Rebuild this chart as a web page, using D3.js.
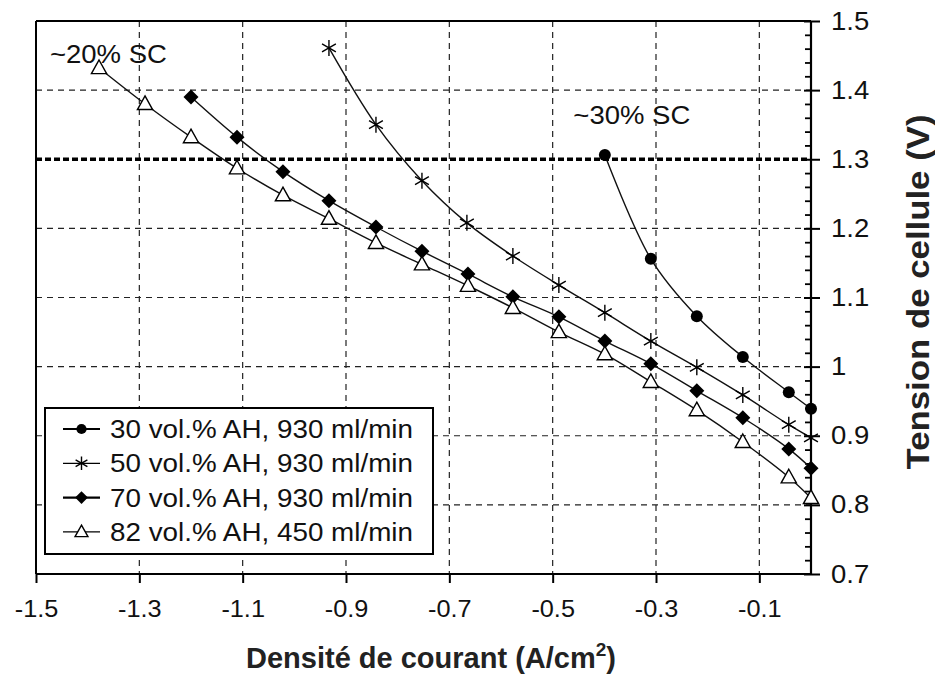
<!DOCTYPE html>
<html>
<head>
<meta charset="utf-8">
<script src="https://cdn.jsdelivr.net/npm/d3@7"></script>
<style>
  html, body { margin: 0; padding: 0; background: #fff; }
  svg { display: block; font-family: "Liberation Sans", Arial, Helvetica, sans-serif; }
</style>
</head>
<body>
<svg id="chart" width="935" height="676"></svg>
<script>
// ---------- data ----------
const x30 = [-0.399, -0.310, -0.221, -0.132, -0.043, 0.0];
const y30 = [1.306, 1.156, 1.073, 1.014, 0.963, 0.939];

const x50 = [-0.933, -0.842, -0.753, -0.666, -0.577, -0.488, -0.399, -0.310, -0.221, -0.132, -0.043, 0.0];
const y50 = [1.461, 1.350, 1.269, 1.208, 1.160, 1.118, 1.078, 1.037, 0.999, 0.959, 0.916, 0.897];

const x70 = [-1.200, -1.111, -1.022, -0.933, -0.842, -0.753, -0.664, -0.577, -0.488, -0.399, -0.310, -0.221, -0.132, -0.043, 0.0];
const y70 = [1.390, 1.332, 1.282, 1.240, 1.202, 1.167, 1.134, 1.101, 1.072, 1.037, 1.004, 0.965, 0.926, 0.881, 0.853];

const x82 = [-1.378, -1.289, -1.200, -1.111, -1.022, -0.933, -0.842, -0.753, -0.664, -0.577, -0.488, -0.399, -0.310, -0.221, -0.132, -0.043, 0.0];
const y82 = [1.432, 1.380, 1.332, 1.287, 1.248, 1.214, 1.179, 1.148, 1.117, 1.085, 1.050, 1.018, 0.978, 0.937, 0.891, 0.840, 0.810];

const seriesNames = ["30 vol.% AH, 930 ml/min", "50 vol.% AH, 930 ml/min", "70 vol.% AH, 930 ml/min", "82 vol.% AH, 450 ml/min"];
const seriesMarkers = ["circle", "asterisk", "diamond", "triangle"];

const xTicks = [-1.5, -1.3, -1.1, -0.9, -0.7, -0.5, -0.3, -0.1];
const xTickLabels = ["-1.5", "-1.3", "-1.1", "-0.9", "-0.7", "-0.5", "-0.3", "-0.1"];
const yTicks = [0.7, 0.8, 0.9, 1.0, 1.1, 1.2, 1.3, 1.4, 1.5];
const yTickLabels = ["0.7", "0.8", "0.9", "1", "1.1", "1.2", "1.3", "1.4", "1.5"];
const thresholdV = 1.3;
const annotations = [
  { text: "~20% SC", x: -1.473, y: 1.439 },
  { text: "~30% SC", x: -0.46, y: 1.351 }
];
const xLabel = "Densité de courant (A/cm";
const xLabelSup = "2";
const yLabel = "Tension de cellule (V)";

// ---------- layout ----------
const svg = d3.select("#chart");
const L = 36, R = 811, T = 21, B = 574;
const SX = 1.1; // horizontal text stretch seen in the reference
const x = d3.scaleLinear().domain([-1.5, 0]).range([L, R]);
const y = d3.scaleLinear().domain([0.7, 1.5]).range([B, T]);

// grid
const grid = svg.append("g").attr("stroke", "#222").attr("stroke-width", 1.2).attr("stroke-dasharray", "6,5");
grid.selectAll("line.v").data(xTicks.filter(d => d > -1.5)).enter().append("line")
  .attr("x1", d => x(d)).attr("x2", d => x(d)).attr("y1", T).attr("y2", B);
grid.selectAll("line.h").data(yTicks.filter(d => d > 0.7 && d < 1.5 && d !== thresholdV)).enter().append("line")
  .attr("x1", L).attr("x2", R).attr("y1", d => y(d)).attr("y2", d => y(d));

// threshold line
svg.append("line")
  .attr("x1", L).attr("x2", R).attr("y1", y(thresholdV)).attr("y2", y(thresholdV))
  .attr("stroke", "#000").attr("stroke-width", 3.5).attr("stroke-dasharray", "6,3");

// frame
svg.append("line").attr("x1", L).attr("x2", R).attr("y1", T).attr("y2", T).attr("stroke", "#000").attr("stroke-width", 2);
svg.append("line").attr("x1", L).attr("x2", L).attr("y1", T).attr("y2", B).attr("stroke", "#000").attr("stroke-width", 2);

// x axis
const xAxis = svg.append("g").attr("transform", `translate(0,${B})`)
  .call(d3.axisBottom(x).tickValues(xTicks).tickSize(9).tickSizeOuter(0).tickFormat((d, i) => xTickLabels[i]));
xAxis.select(".domain").attr("stroke-width", 2).attr("d", `M${L},0H${R}`);
xAxis.selectAll(".tick line").attr("stroke-width", 2);
xAxis.selectAll(".tick text").attr("font-size", 23).attr("fill", "#111").attr("y", 27).attr("dy", "0.71em")
  .attr("transform", `scale(${SX},1)`)
  .attr("font-family", '"Liberation Sans", Arial, sans-serif');

// y axis (right) minor ticks
const minor = d3.range(0.72, 1.5, 0.02).filter(v => Math.abs(Math.round(v * 10) - v * 10) > 0.05);
const yMinor = svg.append("g").attr("transform", `translate(${R},0)`)
  .call(d3.axisRight(y).tickValues(minor).tickSize(-6).tickFormat(""));
yMinor.select(".domain").remove();
yMinor.selectAll(".tick line").attr("stroke-width", 1.8);

// inward major ticks
const yMajIn = svg.append("g").attr("transform", `translate(${R},0)`)
  .call(d3.axisRight(y).tickValues(yTicks).tickSize(-7).tickFormat(""));
yMajIn.select(".domain").remove();
yMajIn.selectAll(".tick line").attr("stroke-width", 2);

const yAxis = svg.append("g").attr("transform", `translate(${R},0)`)
  .call(d3.axisRight(y).tickValues(yTicks).tickSize(9).tickSizeOuter(0).tickFormat((d, i) => yTickLabels[i]));
yAxis.select(".domain").attr("stroke-width", 2.2).attr("d", `M0,${B}V${T}`);
yAxis.selectAll(".tick line").attr("stroke-width", 2);
yAxis.selectAll(".tick text").attr("font-size", 25).attr("fill", "#111").attr("x", 20 / SX)
  .attr("transform", `scale(${SX},1)`)
  .attr("font-family", '"Liberation Sans", Arial, sans-serif');

// series
const allSeries = [
  { xs: x30, ys: y30 },
  { xs: x50, ys: y50 },
  { xs: x70, ys: y70 },
  { xs: x82, ys: y82 }
];
const line = d3.line().x(d => x(d[0])).y(d => y(d[1])).curve(d3.curveCatmullRom.alpha(0.5));

function drawMarker(g, type, cx, cy, scale = 1) {
  if (type === "circle") {
    g.append("circle").attr("cx", cx).attr("cy", cy).attr("r", 6 * scale).attr("fill", "#000");
  } else if (type === "diamond") {
    const s = 7.5 * scale;
    g.append("path").attr("d", `M${cx},${cy - s}L${cx + s},${cy}L${cx},${cy + s}L${cx - s},${cy}Z`).attr("fill", "#000");
  } else if (type === "triangle") {
    const s = 8 * scale;
    g.append("path").attr("d", `M${cx},${cy - s}L${cx + s * 0.95},${cy + s * 0.7}L${cx - s * 0.95},${cy + s * 0.7}Z`)
      .attr("fill", "#fff").attr("stroke", "#000").attr("stroke-width", 1.4);
  } else if (type === "asterisk") {
    const s = 8 * scale;
    const p = [];
    for (let k = 0; k < 3; k++) {
      const a = Math.PI / 2 + k * Math.PI / 3;
      p.push(`M${cx - s * Math.cos(a)},${cy - s * Math.sin(a)}L${cx + s * Math.cos(a)},${cy + s * Math.sin(a)}`);
    }
    g.append("path").attr("d", p.join("")).attr("stroke", "#000").attr("stroke-width", 1.4).attr("fill", "none");
  }
}

allSeries.forEach((s, i) => {
  const pts = s.xs.map((v, j) => [v, s.ys[j]]);
  svg.append("path").datum(pts).attr("d", line).attr("fill", "none").attr("stroke", "#111").attr("stroke-width", 1.4);
  const g = svg.append("g");
  pts.forEach(p => drawMarker(g, seriesMarkers[i], x(p[0]), y(p[1])));
});

// annotations
annotations.forEach(a => {
  svg.append("text").attr("x", x(a.x)).attr("y", y(a.y)).attr("font-size", 26).attr("fill", "#111")
    .attr("textLength", 117).attr("lengthAdjust", "spacingAndGlyphs").text(a.text);
});

// legend
const lg = svg.append("g");
lg.append("rect").attr("x", 45).attr("y", 408).attr("width", 388).attr("height", 146)
  .attr("fill", "#fff").attr("stroke", "#000").attr("stroke-width", 2);
seriesNames.forEach((name, i) => {
  const cy = 429 + i * 34.3;
  lg.append("line").attr("x1", 63).attr("x2", 100).attr("y1", cy).attr("y2", cy)
    .attr("stroke", "#000").attr("stroke-width", (i === 0 || i === 2) ? 2.2 : 1.3);
  drawMarker(lg, seriesMarkers[i], 81.5, cy, 0.85);
  lg.append("text").attr("x", 110).attr("y", cy + 9).attr("font-size", 26).attr("fill", "#111")
    .attr("textLength", 303).attr("lengthAdjust", "spacingAndGlyphs").text(name);
});

// axis labels
const xl = svg.append("text").attr("x", 431).attr("y", 668).attr("text-anchor", "middle")
  .attr("font-size", 29).attr("font-weight", "bold").attr("fill", "#222");
xl.append("tspan").text(xLabel);
xl.append("tspan").attr("font-size", 19).attr("dy", -12).text(xLabelSup);
xl.append("tspan").attr("dy", 12).text(")");

svg.append("text").attr("transform", "translate(929,292) rotate(-90)").attr("text-anchor", "middle")
  .attr("font-size", 32).attr("font-weight", "bold").attr("fill", "#222")
  .attr("textLength", 355).attr("lengthAdjust", "spacingAndGlyphs").text(yLabel);
</script>
</body>
</html>
